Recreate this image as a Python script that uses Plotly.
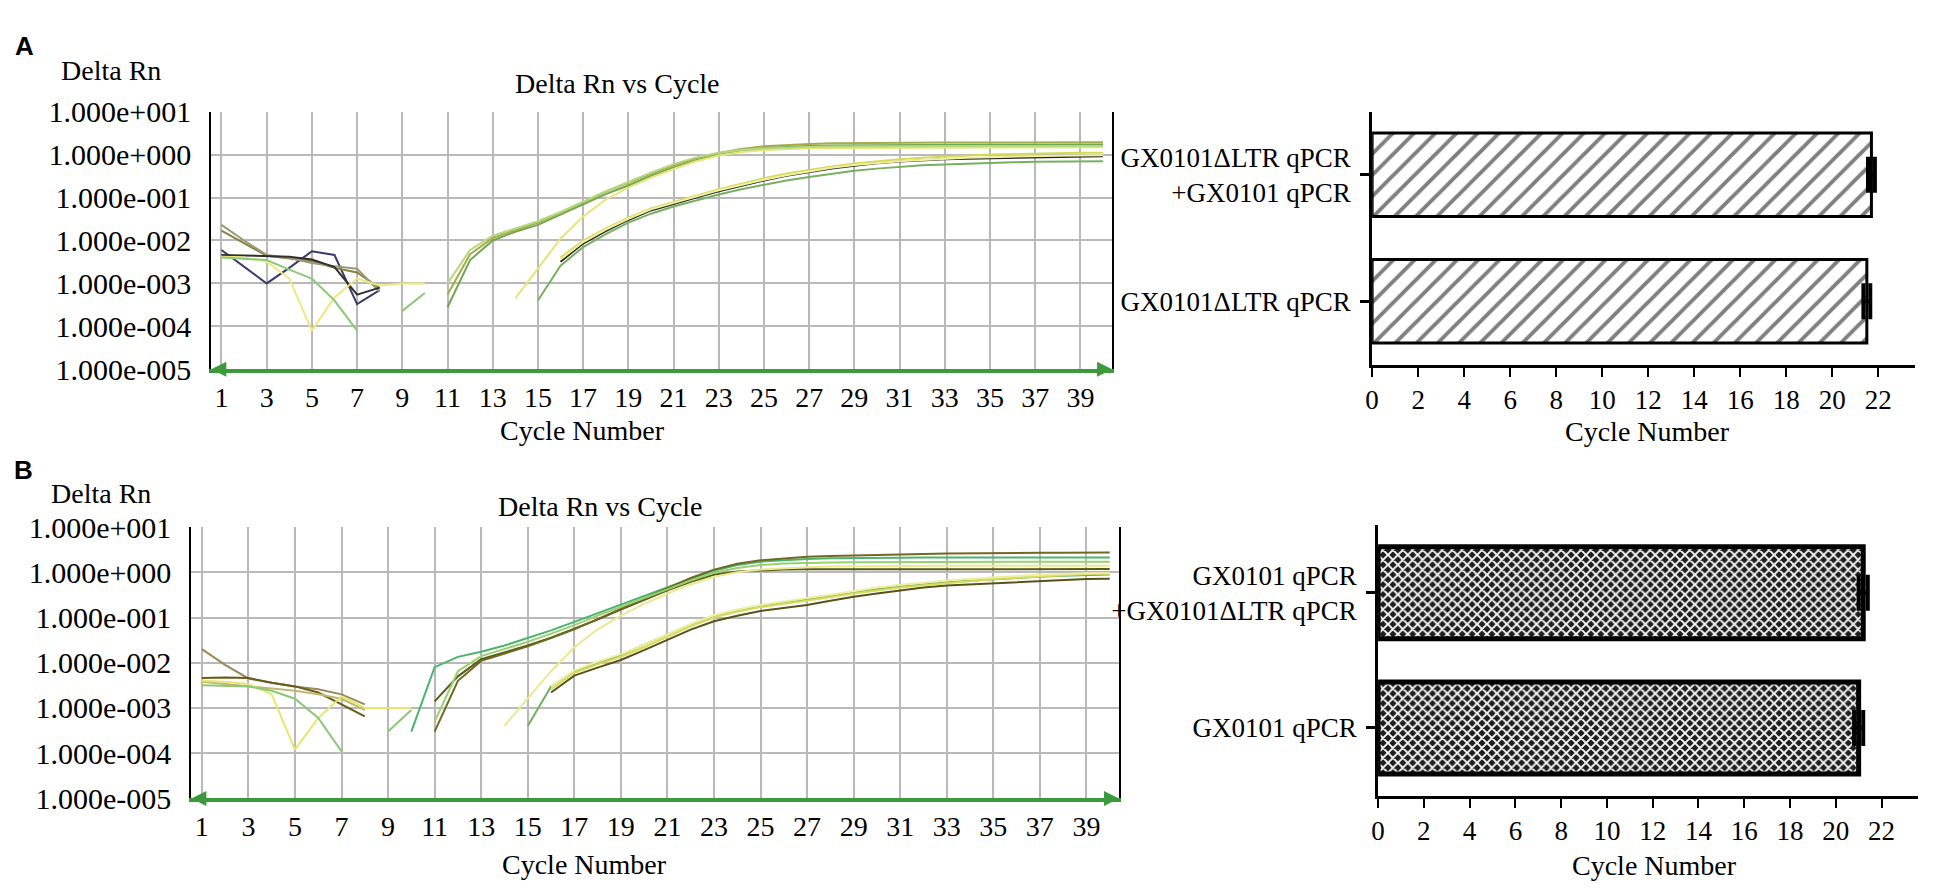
import plotly.graph_objects as go

W, H = 1950, 893

CYCLES = list(range(1, 41))
CYCLE_TICKS = list(range(1, 40, 2))
DRN_TICKS = [1e-5, 1e-4, 1e-3, 1e-2, 1e-1, 1e0, 1e1]
DRN_LABELS = ['1.000e-005', '1.000e-004', '1.000e-003', '1.000e-002',
              '1.000e-001', '1.000e+000', '1.000e+001']


def run(first, vals):
    # place a run of readings on the 1..40 cycle grid, empty elsewhere
    out = [None] * len(CYCLES)
    for i, v in enumerate(vals):
        out[first - 1 + i] = v
    return out


# ---- panel A amplification curves (Delta Rn per cycle) ----
a_navy = run(1, [6.0e-3, 2.4e-3, 1.0e-3, 2.3e-3, 5.6e-3, 4.6e-3, 3.3e-4, 7.0e-4])
a_olive = run(1, [1.7e-2, 8.5e-3, 4.4e-3, 3.8e-3, 3.3e-3, 2.3e-3, 1.8e-3, 7.8e-4])
a_gray = run(1, [2.3e-2, 1.0e-2, 4.6e-3, 3.9e-3, 3.0e-3, 2.5e-3, 2.2e-3, 6.4e-4])
a_dark = run(1, [4.6e-3, 4.5e-3, 4.4e-3, 4.2e-3, 3.6e-3, 2.4e-3, 5.5e-4, 8.0e-4])
a_yel = run(1, [4.2e-3, 4.0e-3, 3.2e-3, 1.3e-3, 8.0e-5, 4.7e-4, 1.3e-3, 9.0e-4, 1.0e-3, 1.0e-3])
a_lgr = run(1, [4.0e-3, 3.8e-3, 3.5e-3, 2.1e-3, 1.3e-3, 4.0e-4, 8.0e-5, None, 2.3e-4, 6.0e-4])

a_up1 = run(11, [2.8e-4, 3.5e-3, 1.0e-2, 1.6e-2, 2.3e-2, 4.0e-2, 7.0e-2, 0.12, 0.19, 0.32,
                 0.50, 0.74, 1.00, 1.25, 1.42, 1.52, 1.58, 1.62, 1.64, 1.66,
                 1.67, 1.68, 1.68, 1.69, 1.69, 1.70, 1.70, 1.70, 1.71, 1.71])
a_up2 = run(11, [5.5e-4, 4.8e-3, 1.15e-2, 1.75e-2, 2.6e-2, 4.4e-2, 7.8e-2, 0.135, 0.22, 0.36,
                 0.56, 0.82, 1.08, 1.35, 1.55, 1.68, 1.76, 1.82, 1.85, 1.87,
                 1.88, 1.89, 1.90, 1.90, 1.91, 1.91, 1.92, 1.92, 1.92, 1.93])
a_up3 = run(14, [4.5e-4, 2.2e-3, 1.1e-2, 3.6e-2, 9.0e-2, 0.17, 0.29, 0.46, 0.70, 0.95,
                 1.15, 1.28, 1.36, 1.40, 1.42, 1.43, 1.44, 1.45, 1.45, 1.46,
                 1.46, 1.47, 1.47, 1.47, 1.48, 1.48, 1.48])
a_up4 = run(11, [1.0e-3, 6.0e-3, 1.3e-2, 1.9e-2, 2.8e-2, 4.6e-2, 8.0e-2, 0.14, 0.23, 0.38,
                 0.60, 0.86, 1.10, 1.28, 1.38, 1.45, 1.50, 1.53, 1.55, 1.56,
                 1.56, 1.57, 1.57, 1.57, 1.58, 1.58, 1.58, 1.58, 1.58, 1.58])

a_lo1 = run(16, [3.2e-3, 8.5e-3, 1.65e-2, 3.0e-2, 5.0e-2, 7.2e-2, 0.10, 0.14, 0.19, 0.25,
                 0.32, 0.39, 0.47, 0.55, 0.63, 0.69, 0.74, 0.78, 0.80, 0.82,
                 0.85, 0.87, 0.89, 0.91, 0.91])
a_lo2 = run(15, [4.0e-4, 2.6e-3, 7.0e-3, 1.4e-2, 2.6e-2, 4.2e-2, 6.2e-2, 8.6e-2, 0.118, 0.155,
                 0.20, 0.25, 0.30, 0.36, 0.42, 0.47, 0.52, 0.56, 0.59, 0.62,
                 0.64, 0.66, 0.68, 0.69, 0.70, 0.70])
a_lo3 = run(16, [4.0e-3, 1.0e-2, 1.9e-2, 3.4e-2, 5.6e-2, 8.0e-2, 0.11, 0.155, 0.21, 0.28,
                 0.36, 0.44, 0.53, 0.62, 0.70, 0.78, 0.84, 0.90, 0.95, 1.00,
                 1.03, 1.06, 1.08, 1.10, 1.10])
a_lo4 = run(16, [3.6e-3, 9.2e-3, 1.8e-2, 3.2e-2, 5.3e-2, 7.6e-2, 0.105, 0.148, 0.20, 0.26,
                 0.33, 0.41, 0.49, 0.57, 0.64, 0.70, 0.75, 0.80, 0.84, 0.87,
                 0.90, 0.92, 0.94, 0.95, 0.96])

# ---- panel B amplification curves ----
b_olive = run(1, [2.0e-2, 9.0e-3, 4.5e-3, 3.6e-3, 3.0e-3, 2.6e-3, 2.0e-3, 1.2e-3])
b_brown = run(1, [4.6e-3, 4.7e-3, 4.6e-3, 3.6e-3, 3.0e-3, 2.2e-3, 1.2e-3, 6.5e-4])
b_khaki = run(1, [3.8e-3, 3.4e-3, 3.0e-3, 2.7e-3, 2.4e-3, 2.0e-3, 1.6e-3, 9.0e-4])
b_yel = run(1, [4.0e-3, 3.8e-3, 3.4e-3, 2.0e-3, 1.2e-4, 6.0e-4, 1.8e-3, 1.0e-3, 1.0e-3, 1.0e-3])
b_lgr = run(1, [3.2e-3, 3.1e-3, 3.0e-3, 2.4e-3, 1.6e-3, 6.0e-4, 1.1e-4, None, 3.0e-4, 9.0e-4])

b_up1 = run(10, [3.0e-4, 8.0e-3, 1.35e-2, 1.75e-2, 2.4e-2, 3.5e-2, 5.2e-2, 8.0e-2, 0.125, 0.19,
                 0.30, 0.46, 0.72, 1.08, 1.45, 1.72, 1.88, 1.98, 2.04, 2.08,
                 2.10, 2.11, 2.12, 2.12, 2.13, 2.13, 2.13, 2.14, 2.14, 2.14, 2.14])
b_up2 = run(11, [1.4e-3, 5.0e-3, 1.2e-2, 1.7e-2, 2.4e-2, 3.6e-2, 5.6e-2, 9.0e-2, 0.15, 0.25,
                 0.40, 0.62, 0.88, 1.05, 1.12, 1.15, 1.17, 1.17, 1.18, 1.18,
                 1.18, 1.18, 1.18, 1.18, 1.18, 1.18, 1.18, 1.18, 1.18, 1.18])
b_up3 = run(11, [3.0e-4, 4.0e-3, 1.1e-2, 1.6e-2, 2.3e-2, 3.5e-2, 5.5e-2, 9.2e-2, 0.155, 0.27,
                 0.45, 0.75, 1.15, 1.55, 1.85, 2.05, 2.20, 2.30, 2.38, 2.45,
                 2.50, 2.55, 2.60, 2.65, 2.68, 2.70, 2.72, 2.72, 2.74, 2.74])
b_up4 = run(11, [5.0e-4, 6.5e-3, 1.4e-2, 2.0e-2, 2.9e-2, 4.4e-2, 6.8e-2, 0.11, 0.17, 0.27,
                 0.42, 0.66, 0.98, 1.25, 1.45, 1.56, 1.63, 1.66, 1.68, 1.69,
                 1.70, 1.70, 1.71, 1.71, 1.71, 1.72, 1.72, 1.72, 1.72, 1.72])
b_up5 = run(14, [4.0e-4, 1.6e-3, 6.5e-3, 2.2e-2, 5.5e-2, 0.11, 0.20, 0.34, 0.54, 0.80,
                 1.00, 1.15, 1.24, 1.30, 1.34, 1.36, 1.37, 1.38, 1.38, 1.39,
                 1.39, 1.39, 1.40, 1.40, 1.40, 1.40, 1.40])

b_lo1 = run(16, [2.2e-3, 5.2e-3, 7.8e-3, 1.15e-2, 1.9e-2, 3.2e-2, 5.4e-2, 8.3e-2, 0.11, 0.14,
                 0.16, 0.19, 0.235, 0.29, 0.34, 0.40, 0.46, 0.51, 0.54, 0.56,
                 0.60, 0.64, 0.68, 0.71, 0.72])
b_lo2 = run(15, [4.0e-4, 3.0e-3, 6.5e-3, 1.0e-2, 1.5e-2, 2.5e-2, 4.2e-2, 7.0e-2, 0.105, 0.14,
                 0.175, 0.21, 0.25, 0.30, 0.36, 0.42, 0.48, 0.54, 0.60, 0.65,
                 0.70, 0.75, 0.80, 0.84, 0.88, 0.90])
b_lo3 = run(16, [2.6e-3, 6.0e-3, 9.2e-3, 1.35e-2, 2.2e-2, 3.8e-2, 6.4e-2, 0.10, 0.135, 0.17,
                 0.20, 0.235, 0.28, 0.34, 0.40, 0.46, 0.52, 0.58, 0.64, 0.70,
                 0.76, 0.82, 0.88, 0.92, 0.94])
b_lo4 = run(16, [3.0e-3, 6.8e-3, 1.05e-2, 1.55e-2, 2.5e-2, 4.3e-2, 7.2e-2, 0.112, 0.15, 0.19,
                 0.23, 0.27, 0.32, 0.39, 0.46, 0.53, 0.60, 0.66, 0.72, 0.78,
                 0.83, 0.88, 0.92, 0.95, 0.96])

# ---- Ct bar charts ----
A_BAR_LABELS = ['GX0101ΔLTR qPCR', 'GX0101ΔLTR qPCR<br>+GX0101 qPCR']
A_BAR_CT = [21.5, 21.7]
A_BAR_SD = [0.15, 0.15]
B_BAR_LABELS = ['GX0101 qPCR', 'GX0101 qPCR<br>+GX0101ΔLTR qPCR']
B_BAR_CT = [21.0, 21.2]
B_BAR_SD = [0.2, 0.2]
CT_TICKS = list(range(0, 23, 2))

A_CURVES = [a_navy, a_olive, a_gray, a_dark, a_yel, a_lgr,
            a_up1, a_up2, a_up3, a_up4, a_lo1, a_lo2, a_lo3, a_lo4]
A_COLORS = ['#3b3b6b', '#8a8040', '#9a9a78', '#303030', '#eaea80', '#8fc878',
            '#6fa84f', '#a4ac4c', '#e4e678', '#b8d880', '#262626', '#78b060', '#d6da58', '#eef0a0']
B_CURVES = [b_olive, b_brown, b_khaki, b_yel, b_lgr,
            b_up1, b_up2, b_up3, b_up4, b_up5, b_lo1, b_lo2, b_lo3, b_lo4]
B_COLORS = ['#9a8a58', '#6a5a18', '#c0b870', '#e6e670', '#8cc878',
            '#4cb46c', '#5a5a18', '#6e6a22', '#98d070', '#e8ea90', '#5a5218', '#70b060', '#d8dc5c', '#eef0a0']

SERIF = 'Liberation Serif'
GRID = '#b9b9b9'
GREEN_AXIS = '#3c9a3c'

fig = go.Figure()

for vals, col in zip(A_CURVES, A_COLORS):
    fig.add_trace(go.Scatter(x=CYCLES, y=vals, mode='lines', line=dict(color=col, width=2),
                             xaxis='x', yaxis='y', showlegend=False))
for vals, col in zip(B_CURVES, B_COLORS):
    fig.add_trace(go.Scatter(x=CYCLES, y=vals, mode='lines', line=dict(color=col, width=2),
                             xaxis='x3', yaxis='y3', showlegend=False))

fig.add_trace(go.Bar(y=A_BAR_LABELS, x=A_BAR_CT, orientation='h', width=0.66,
                     marker=dict(color='white', line=dict(color='black', width=3),
                                 pattern=dict(shape='/', fgcolor='black', bgcolor='white', size=15, solidity=0.26)),
                     error_x=dict(type='data', array=A_BAR_SD, color='black', thickness=4, width=18),
                     xaxis='x2', yaxis='y2', showlegend=False))
# dense checker: white diagonal mesh over near-black fill
fig.add_trace(go.Bar(y=B_BAR_LABELS, x=B_BAR_CT, orientation='h', width=0.68,
                     marker=dict(color='#1e1e1e', line=dict(color='black', width=5),
                                 pattern=dict(shape='x', fgcolor='white', bgcolor='#1e1e1e', size=7,
                                              solidity=0.45, fillmode='replace')),
                     error_x=dict(type='data', array=B_BAR_SD, color='black', thickness=4, width=18),
                     xaxis='x4', yaxis='y4', showlegend=False))


def px(xp):
    return xp / W


def py(yp):
    return 1 - yp / H


def cycle_axis(x0, x1, anchor):
    return dict(domain=[px(x0), px(x1)], anchor=anchor, range=[0.55, 40.4],
                tickmode='array', tickvals=CYCLE_TICKS, showgrid=True, gridcolor=GRID, gridwidth=2,
                showline=True, linecolor=GREEN_AXIS, linewidth=4, ticks='', zeroline=False,
                tickfont=dict(family=SERIF, size=28, color='black'), ticklabelstandoff=0)


def drn_axis(top, bottom, anchor):
    return dict(domain=[py(bottom), py(top)], anchor=anchor, type='log', range=[-5, 1],
                tickmode='array', tickvals=DRN_TICKS, ticktext=DRN_LABELS,
                showgrid=True, gridcolor=GRID, gridwidth=2, showline=True, linecolor='black',
                linewidth=2, mirror=True, ticks='', zeroline=False,
                tickfont=dict(family=SERIF, size=30, color='black'), ticklabelstandoff=12)


def ct_axis(x0, x1, anchor):
    return dict(domain=[px(x0), px(x1)], anchor=anchor, range=[0, 23.6],
                tickmode='array', tickvals=CT_TICKS, showgrid=False, zeroline=False,
                showline=True, linecolor='black', linewidth=3, ticks='outside', ticklen=9,
                tickwidth=2, tickcolor='black', tickfont=dict(family=SERIF, size=27, color='black'))


def cat_axis(top, bottom, anchor):
    return dict(domain=[py(bottom), py(top)], anchor=anchor, type='category', range=[-0.5, 1.5],
                showgrid=False, zeroline=False, showline=True, linecolor='black', linewidth=3,
                ticks='outside', ticklen=9, tickwidth=3, tickcolor='black',
                tickfont=dict(family=SERIF, size=27, color='black'), ticklabelstandoff=4)


def label(text, x, y, size=28, family=SERIF, bold=False):
    return dict(text='<b>%s</b>' % text if bold else text, x=px(x), y=py(y), xref='paper', yref='paper',
                showarrow=False, xanchor='center', yanchor='middle',
                font=dict(family=family, size=size, color='black'))


def axis_arrow(xa, ya, side):
    return dict(x=0 if side == 'left' else 1, y=0, xref=xa + ' domain', yref=ya + ' domain',
                text='', showarrow=True, arrowhead=2, arrowsize=1, arrowwidth=3, arrowcolor=GREEN_AXIS,
                ax=14 if side == 'left' else -14, ay=0)


annotations = [
    label('A', 10, 22, size=26, family='Liberation Sans', bold=True),
    label('Delta Rn', 96, 47),
    label('Delta Rn vs Cycle', 605, 61),
    label('Cycle Number', 570, 422),
    label('Cycle Number', 1638, 423),
    label('B', 9, 463, size=26, family='Liberation Sans', bold=True),
    label('Delta Rn', 86, 487),
    label('Delta Rn vs Cycle', 588, 501),
    label('Cycle Number', 572, 873),
    label('Cycle Number', 1645, 874),
    axis_arrow('x', 'y', 'left'), axis_arrow('x', 'y', 'right'),
    axis_arrow('x3', 'y3', 'left'), axis_arrow('x3', 'y3', 'right'),
]

fig.update_layout(
    width=W, height=H, autosize=False,
    margin=dict(l=0, r=0, t=0, b=0),
    paper_bgcolor='white', plot_bgcolor='white',
    showlegend=False, bargap=0.3,
    xaxis=cycle_axis(197, 1101, 'y'),
    yaxis=drn_axis(90, 358, 'x'),
    xaxis2=ct_axis(1362, 1907, 'y2'),
    yaxis2=cat_axis(90, 353, 'x2'),
    xaxis3=cycle_axis(177, 1108, 'y3'),
    yaxis3=drn_axis(522, 804, 'x3'),
    xaxis4=ct_axis(1368, 1910, 'y4'),
    yaxis4=cat_axis(520, 801, 'x4'),
    annotations=annotations,
)

fig.write_html("out.html")
